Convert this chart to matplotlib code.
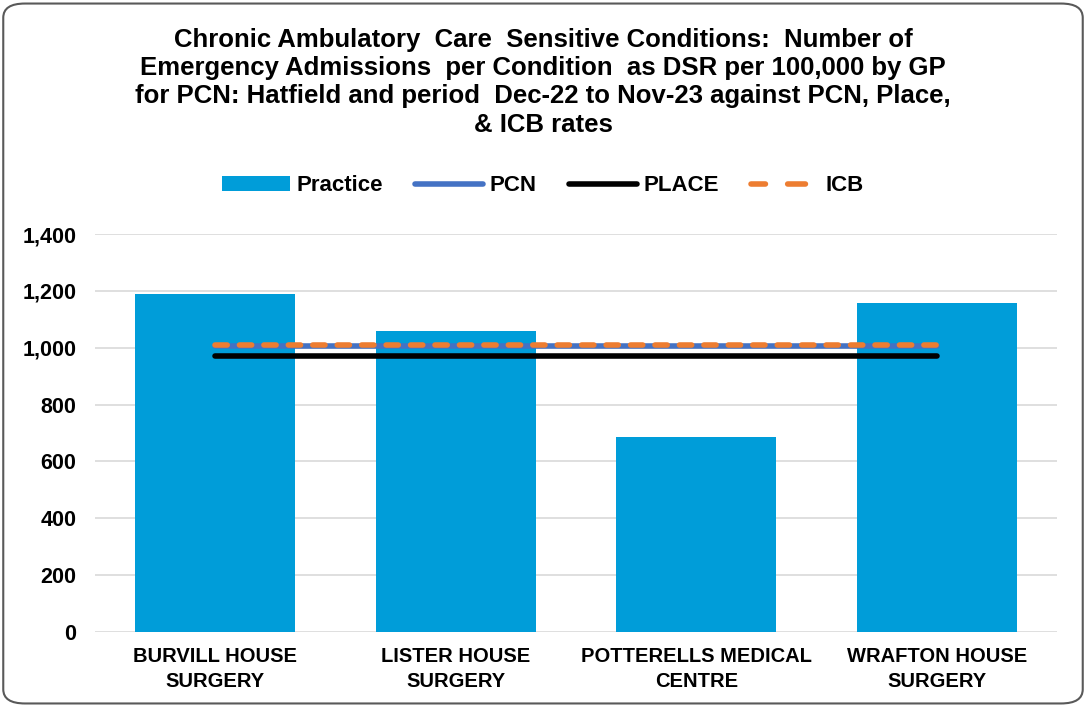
import matplotlib
matplotlib.use("Agg")
import matplotlib.pyplot as plt
from matplotlib.patches import FancyBboxPatch
from matplotlib.ticker import FuncFormatter, MultipleLocator

plt.rcParams['font.family'] = ['Liberation Sans', 'DejaVu Sans']

categories = ["BURVILL HOUSE\nSURGERY", "LISTER HOUSE\nSURGERY",
              "POTTERELLS MEDICAL\nCENTRE", "WRAFTON HOUSE\nSURGERY"]
practice = [1189, 1059, 686, 1157]
pcn = [1006, 1006, 1006, 1006]
place = [971, 971, 971, 971]
icb = [1009, 1009, 1009, 1009]

title = ("Chronic Ambulatory  Care  Sensitive Conditions:  Number of\n"
         "Emergency Admissions  per Condition  as DSR per 100,000 by GP\n"
         "for PCN: Hatfield and period  Dec-22 to Nov-23 against PCN, Place,\n"
         "& ICB rates")

fig = plt.figure(figsize=(10.86, 7.07), dpi=100)
border = FancyBboxPatch((0.003, 0.005), 0.994, 0.99, boxstyle="round,pad=0,rounding_size=0.02",
                        transform=fig.transFigure, facecolor="white", edgecolor="#595959",
                        linewidth=1.5, zorder=-10)
fig.patches.append(border)

ax = fig.add_axes([0.0875, 0.1061, 0.8858, 0.5629])
ax.set_facecolor("none")
x = list(range(len(categories)))
h_bar = ax.bar(x, practice, width=0.665, color="#009DD9", label="Practice", zorder=2)
h_pcn, = ax.plot(x, pcn, color="#4472C4", linewidth=4, label="PCN", zorder=3, solid_capstyle="round")
h_place, = ax.plot(x, place, color="black", linewidth=4, label="PLACE", zorder=3, solid_capstyle="round")
h_icb, = ax.plot(x, icb, color="#ED7D31", linewidth=4, linestyle=(0, (2.2, 2.2)), label="ICB", zorder=4,
                 dash_capstyle="round")

ax.set_xlim(-0.5, 3.5)
ax.set_ylim(0, 1400)
ax.yaxis.set_major_locator(MultipleLocator(200))
ax.yaxis.set_major_formatter(FuncFormatter(lambda v, p: f"{int(v):,}"))
ax.grid(axis="y", color="#D9D9D9", linewidth=1.2, zorder=0)
ax.set_axisbelow(True)
for s in ax.spines.values():
    s.set_visible(False)
ax.tick_params(axis="both", length=0)
ax.tick_params(axis="y", pad=13.5, labelsize=15.5)
ax.tick_params(axis="x", pad=11, labelsize=14.5)
ax.set_xticks(x)
ax.set_xticklabels(categories, fontweight="bold", linespacing=1.4)
for lbl in ax.get_yticklabels():
    lbl.set_fontweight("bold")

fig.text(0.5, 0.961, title, ha="center", va="top", fontsize=18.5, fontweight="bold",
         linespacing=1.23)

leg = fig.legend([h_bar, h_pcn, h_place, h_icb], ["Practice", "PCN", "PLACE", "ICB"],
                 loc="center", bbox_to_anchor=(0.5, 0.737), ncol=4, frameon=False,
                 prop={"weight": "bold", "size": 16}, handlelength=3.05, columnspacing=1.45,
                 handletextpad=0.3)
leg.get_lines()[2].set_linestyle((0.6, (3.2, 4.0)))

fig.savefig("out.png", dpi=100)
